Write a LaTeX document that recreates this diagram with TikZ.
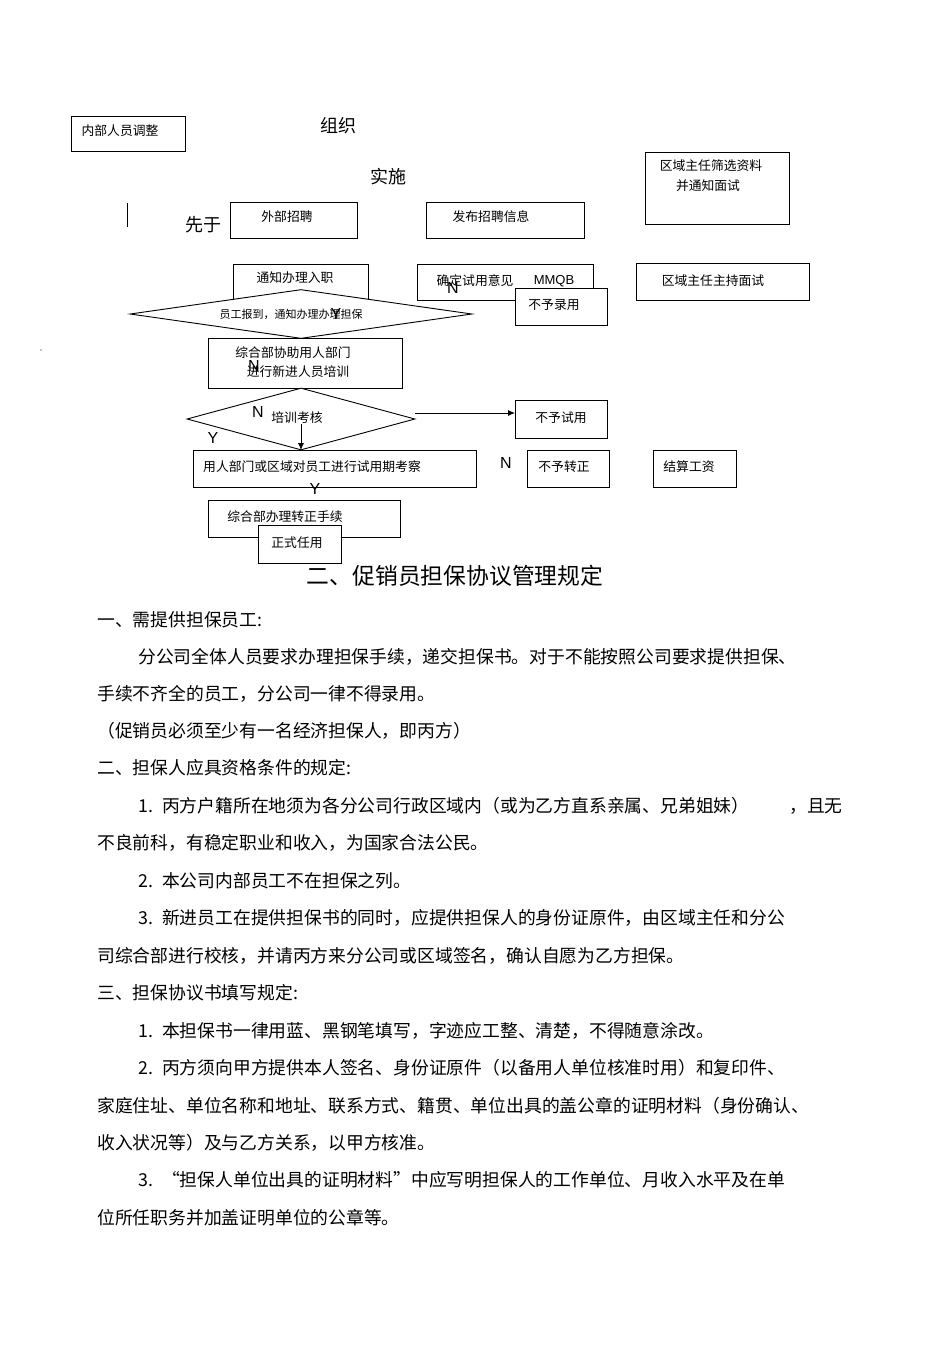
\documentclass[tikz,border=0pt]{standalone}
\usepackage{fontspec}
\setmainfont{Liberation Sans}
\newfontfamily\cjk{Noto Sans CJK SC}
\usetikzlibrary{arrows.meta,shapes.geometric}
\newcommand\numgap{\hspace{9pt}}
\begin{document}
\begin{tikzpicture}[x=1pt,y=-1pt,
  box/.style={draw, line width=0.9pt, inner sep=0, fill=white, anchor=north west},
  dia/.style={draw, diamond, line width=0.9pt, inner sep=0, fill=white},
  lbl/.style={font=\cjk\fontsize{12.8}{14}\selectfont, inner sep=0},
  big/.style={font=\cjk\fontsize{18}{20}\selectfont, inner sep=0},
  yn/.style={font=\fontsize{16}{18}\selectfont, inner sep=0},
  body/.style={font=\cjk\fontsize{17.8}{20}\selectfont, inner sep=0, anchor=west},
  arr/.style={line width=0.9pt, -{Latex[length=7pt,width=6pt]}},
]
\useasboundingbox (0,0) rectangle (950,1345);

% ---------- flowchart boxes ----------
\node[box, minimum width=114, minimum height=35] (nbry) at (71,116) {};
\node[lbl] (nbryt) at (120,131) {内部人员调整};

\node[big] (zz) at (338,126) {组织};
\node[big] (ss) at (388,177) {实施};
\node[big] (xy) at (203,225) {先于};
\coordinate (vl1) at (127,203);
\coordinate (vl2) at (127,227);
\draw[line width=0.9pt] (vl1) -- (vl2);
\node[circle, fill=black, inner sep=0, minimum size=1.2pt] (dot) at (41,350) {};

\node[box, minimum width=127, minimum height=36] (wbzp) at (230,202) {};
\node[lbl] (wbzpt) at (287,217) {外部招聘};

\node[box, minimum width=158, minimum height=36] (fbzp) at (426,202) {};
\node[lbl] (fbzpt) at (491,217) {发布招聘信息};

\node[box, minimum width=144, minimum height=72] (qysx) at (645,152) {};
\node[lbl] (qysxt1) at (711,166) {区域主任筛选资料};
\node[lbl] (qysxt2) at (708,186) {并通知面试};

\node[box, minimum width=135, minimum height=40] (tzrz) at (233,264) {};
\node[lbl] (tzrzt) at (295,278) {通知办理入职};

\node[box, minimum width=176, minimum height=36] (qdsy) at (417,264) {};
\node[lbl] (qdsyt) at (475,281) {确定试用意见};
\node[yn, font=\fontsize{13}{15}\selectfont] (mmqb) at (554,281) {MMQB};

\node[box, minimum width=173, minimum height=37] (qyms) at (636,263) {};
\node[lbl] (qymst) at (713,281) {区域主任主持面试};

\node[box, minimum width=92, minimum height=37] (bylu) at (515,288) {};
\node[lbl] (blyut) at (554,305) {不予录用};

% diamond 1
\node[dia, minimum width=342, minimum height=49] (d1) at (301,314) {};
\node[lbl, font=\cjk\fontsize{11}{13}\selectfont] (d1t) at (291,314) {员工报到，通知办理办理担保};

\node[box, minimum width=194, minimum height=50] (pxun) at (208,338) {};
\node[lbl] (pxunt1) at (293,353) {综合部协助用人部门};
\node[lbl] (pxunt2) at (298,372) {进行新进人员培训};

% diamond 2
\node[dia, minimum width=228, minimum height=62] (d2) at (301,419) {};
\node[lbl] (d2t) at (297,418) {培训考核};

\node[box, minimum width=92, minimum height=38] (bysy) at (515,400) {};
\node[lbl] (bysyt) at (561,418) {不予试用};

\node[box, minimum width=283, minimum height=37] (kc) at (193,450) {};
\node[lbl] (kct) at (312,467) {用人部门或区域对员工进行试用期考察};

\node[box, minimum width=82, minimum height=37] (byzz) at (527,450) {};
\node[lbl] (byzzt) at (564,467) {不予转正};

\node[box, minimum width=83, minimum height=37] (jsgz) at (653,450) {};
\node[lbl] (jsgzt) at (689,467) {结算工资};

\node[box, minimum width=192, minimum height=37] (zzsx) at (208,500) {};
\node[lbl] (zzsxt) at (285,517) {综合部办理转正手续};

\node[box, minimum width=83, minimum height=38] (zsry) at (258,525) {};
\node[lbl] (zsryt) at (297,543) {正式任用};

% connectors
\coordinate (a1) at (415,413);
\draw[arr] (a1) -- (a1 -| bysy.west);
\coordinate (a2) at (301,424);
\draw[arr] (a2) -- (kc.north -| a2);

% Y / N labels
\node[yn] (n1) at (453,288) {N};
\node[yn] (y1) at (336,314) {Y};
\node[yn] (n2) at (254,366) {N};
\node[yn] (n3) at (258,412) {N};
\node[yn] (y2) at (213,438) {Y};
\node[yn] (y3) at (315,489) {Y};
\node[yn] (n4) at (506,463) {N};

% ---------- text ----------
\node[font=\cjk\fontsize{22.8}{25}\selectfont, inner sep=0] (title) at (455,576) {二、促销员担保协议管理规定};

\node[body] (l1) at (97,620) {一、需提供担保员工:};
\node[body] (l2) at (138,657) {分公司全体人员要求办理担保手续，递交担保书。对于不能按照公司要求提供担保、};
\node[body] (l3) at (97,694) {手续不齐全的员工，分公司一律不得录用。};
\node[body] (l4) at (97,731) {（促销员必须至少有一名经济担保人，即丙方）};
\node[body] (l5) at (97,768) {二、担保人应具资格条件的规定:};
\node[body] (l6) at (138,806) {1.\numgap 丙方户籍所在地须为各分公司行政区域内（或为乙方直系亲属、兄弟姐妹）};
\node[body] (l6b) at (789,806) {，且无};
\node[body] (l7) at (97,843) {不良前科，有稳定职业和收入，为国家合法公民。};
\node[body] (l8) at (138,881) {2.\numgap 本公司内部员工不在担保之列。};
\node[body] (l9) at (138,918) {3.\numgap 新进员工在提供担保书的同时，应提供担保人的身份证原件，由区域主任和分公};
\node[body] (l10) at (97,956) {司综合部进行校核，并请丙方来分公司或区域签名，确认自愿为乙方担保。};
\node[body] (l11) at (97,993) {三、担保协议书填写规定:};
\node[body] (l12) at (138,1031) {1.\numgap 本担保书一律用蓝、黑钢笔填写，字迹应工整、清楚，不得随意涂改。};
\node[body] (l13) at (138,1068) {2.\numgap 丙方须向甲方提供本人签名、身份证原件（以备用人单位核准时用）和复印件、};
\node[body] (l14) at (97,1106) {家庭住址、单位名称和地址、联系方式、籍贯、单位出具的盖公章的证明材料（身份确认、};
\node[body] (l15) at (97,1143) {收入状况等）及与乙方关系，以甲方核准。};
\node[body] (l16) at (138,1180) {3.\numgap “担保人单位出具的证明材料”中应写明担保人的工作单位、月收入水平及在单};
\node[body] (l17) at (97,1218) {位所任职务并加盖证明单位的公章等。};
\end{tikzpicture}
\end{document}
